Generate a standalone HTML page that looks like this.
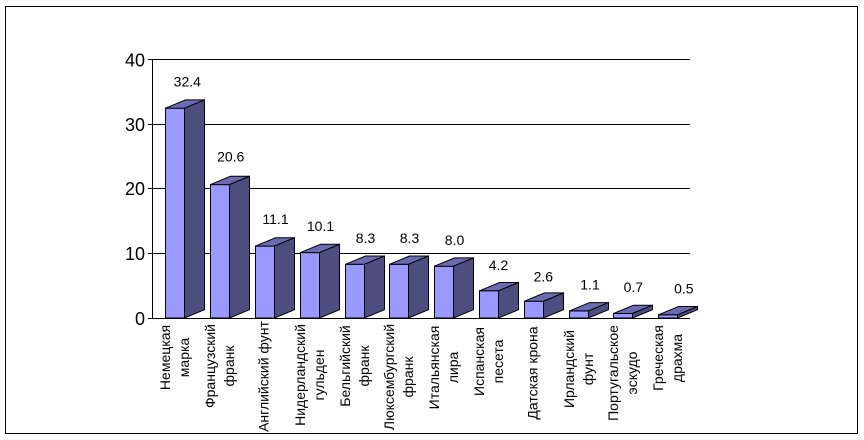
<!DOCTYPE html>
<html><head><meta charset="utf-8"><style>
html,body{margin:0;padding:0;background:#fff;}
svg{display:block;}
text{font-family:"Liberation Sans",Arial,sans-serif;fill:#000;}
</style></head><body>
<svg width="864" height="440" viewBox="0 0 864 440" xmlns="http://www.w3.org/2000/svg">
<rect x="0" y="0" width="864" height="440" fill="#fff"/>
<rect x="5.5" y="6.5" width="852" height="427" fill="none" stroke="#000" stroke-width="1"/>
<!-- gridlines -->
<g stroke="#000" stroke-width="1">
<line x1="148" y1="59.5" x2="690" y2="59.5"/>
<line x1="148" y1="124.5" x2="690" y2="124.5"/>
<line x1="148" y1="188.5" x2="690" y2="188.5"/>
<line x1="148" y1="253.5" x2="690" y2="253.5"/>
<line x1="148" y1="318.5" x2="690" y2="318.5"/>
<line x1="152.5" y1="59" x2="152.5" y2="318.5"/>
</g>
<!-- y labels -->
<g font-size="18" text-anchor="end">
<text x="145" y="66.5">40</text>
<text x="145" y="131">30</text>
<text x="145" y="195">20</text>
<text x="145" y="260">10</text>
<text x="145" y="325">0</text>
</g>
<!-- bars -->
<g stroke="#000" stroke-width="1" stroke-linejoin="miter">
<rect x="165.5" y="108.2" width="19" height="209.8" fill="#9999FF"/>
<polygon points="165.5,108.2 185.5,99.9 204.5,99.9 184.5,108.2" fill="#6B6BB3"/>
<polygon points="184.5,108.2 204.5,99.9 204.5,309.7 184.5,318" fill="#4D4D80"/>

<rect x="210.5" y="184.6" width="19" height="133.4" fill="#9999FF"/>
<polygon points="210.5,184.6 230.5,176.3 249.5,176.3 229.5,184.6" fill="#6B6BB3"/>
<polygon points="229.5,184.6 249.5,176.3 249.5,309.7 229.5,318" fill="#4D4D80"/>

<rect x="255.5" y="246.1" width="19" height="71.9" fill="#9999FF"/>
<polygon points="255.5,246.1 275.5,237.8 294.5,237.8 274.5,246.1" fill="#6B6BB3"/>
<polygon points="274.5,246.1 294.5,237.8 294.5,309.7 274.5,318" fill="#4D4D80"/>

<rect x="300.5" y="252.6" width="19" height="65.4" fill="#9999FF"/>
<polygon points="300.5,252.6 320.5,244.3 339.5,244.3 319.5,252.6" fill="#6B6BB3"/>
<polygon points="319.5,252.6 339.5,244.3 339.5,309.7 319.5,318" fill="#4D4D80"/>

<rect x="345.5" y="264.3" width="19" height="53.7" fill="#9999FF"/>
<polygon points="345.5,264.3 365.5,256 384.5,256 364.5,264.3" fill="#6B6BB3"/>
<polygon points="364.5,264.3 384.5,256 384.5,309.7 364.5,318" fill="#4D4D80"/>

<rect x="389.5" y="264.3" width="19" height="53.7" fill="#9999FF"/>
<polygon points="389.5,264.3 409.5,256 428.5,256 408.5,264.3" fill="#6B6BB3"/>
<polygon points="408.5,264.3 428.5,256 428.5,309.7 408.5,318" fill="#4D4D80"/>

<rect x="434.5" y="266.2" width="19" height="51.8" fill="#9999FF"/>
<polygon points="434.5,266.2 454.5,257.9 473.5,257.9 453.5,266.2" fill="#6B6BB3"/>
<polygon points="453.5,266.2 473.5,257.9 473.5,309.7 453.5,318" fill="#4D4D80"/>

<rect x="479.5" y="290.8" width="19" height="27.2" fill="#9999FF"/>
<polygon points="479.5,290.8 499.5,282.5 518.5,282.5 498.5,290.8" fill="#6B6BB3"/>
<polygon points="498.5,290.8 518.5,282.5 518.5,309.7 498.5,318" fill="#4D4D80"/>

<rect x="524.5" y="301.2" width="19" height="16.8" fill="#9999FF"/>
<polygon points="524.5,301.2 544.5,292.9 563.5,292.9 543.5,301.2" fill="#6B6BB3"/>
<polygon points="543.5,301.2 563.5,292.9 563.5,309.7 543.5,318" fill="#4D4D80"/>

<rect x="569.5" y="310.9" width="19" height="7.1" fill="#9999FF"/>
<polygon points="569.5,310.9 589.5,302.6 608.5,302.6 588.5,310.9" fill="#6B6BB3"/>
<polygon points="588.5,310.9 608.5,302.6 608.5,309.7 588.5,318" fill="#4D4D80"/>

<rect x="613.5" y="313.5" width="19" height="4.5" fill="#9999FF"/>
<polygon points="613.5,313.5 633.5,305.2 652.5,305.2 632.5,313.5" fill="#6B6BB3"/>
<polygon points="632.5,313.5 652.5,305.2 652.5,309.7 632.5,318" fill="#4D4D80"/>

<rect x="658.5" y="314.8" width="19" height="3.2" fill="#9999FF"/>
<polygon points="658.5,314.8 678.5,306.5 697.5,306.5 677.5,314.8" fill="#6B6BB3"/>
<polygon points="677.5,314.8 697.5,306.5 697.5,309.7 677.5,318" fill="#4D4D80"/>
</g>
<!-- value labels -->
<g font-size="14" text-anchor="middle">
<text x="187.3" y="86.7">32.4</text>
<text x="230.7" y="161.7">20.6</text>
<text x="275.5" y="224">11.1</text>
<text x="320.5" y="231">10.1</text>
<text x="365.5" y="243">8.3</text>
<text x="409.5" y="243">8.3</text>
<text x="454.5" y="245">8.0</text>
<text x="498.5" y="270">4.2</text>
<text x="543.3" y="281.7">2.6</text>
<text x="590" y="289.5">1.1</text>
<text x="633.3" y="292">0.7</text>
<text x="683.8" y="293.3">0.5</text>
</g>
<!-- category labels -->
<g font-size="14" text-anchor="middle">
<text transform="translate(170.2,357.5) rotate(-90)">Немецкая</text>
<text transform="translate(189.2,357.5) rotate(-90)">марка</text>
<text transform="translate(215.2,366) rotate(-90)">Французский</text>
<text transform="translate(234.2,366) rotate(-90)">франк</text>
<text transform="translate(268.5,376.5) rotate(-90)">Английский фунт</text>
<text transform="translate(305.2,375) rotate(-90)">Нидерландский</text>
<text transform="translate(324.2,375) rotate(-90)">гульден</text>
<text transform="translate(350.2,366) rotate(-90)">Бельгийский</text>
<text transform="translate(369.2,366) rotate(-90)">франк</text>
<text transform="translate(394.2,377) rotate(-90)">Люксембургский</text>
<text transform="translate(413.2,377) rotate(-90)">франк</text>
<text transform="translate(439.2,367.5) rotate(-90)">Итальянская</text>
<text transform="translate(458.2,367.5) rotate(-90)">лира</text>
<text transform="translate(484.2,361.5) rotate(-90)">Испанская</text>
<text transform="translate(503.2,361.5) rotate(-90)">песета</text>
<text transform="translate(537.5,373) rotate(-90)">Датская крона</text>
<text transform="translate(574.2,369) rotate(-90)">Ирландский</text>
<text transform="translate(593.2,369) rotate(-90)">фунт</text>
<text transform="translate(618.2,373) rotate(-90)">Португальское</text>
<text transform="translate(637.2,373) rotate(-90)">эскудо</text>
<text transform="translate(663.2,358) rotate(-90)">Греческая</text>
<text transform="translate(682.2,358) rotate(-90)">драхма</text>
</g>
</svg>
</body></html>
